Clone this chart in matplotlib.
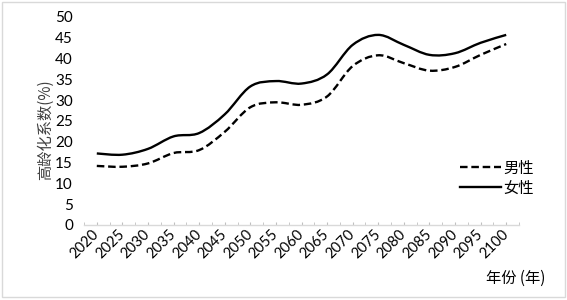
import matplotlib
matplotlib.use('Agg')
import matplotlib.pyplot as plt
import numpy as np
from matplotlib.path import Path
from matplotlib.patches import PathPatch, Rectangle
from matplotlib.lines import Line2D

plt.rcParams['font.family'] = ['Lato', 'Noto Sans CJK SC', 'DejaVu Sans']

# data
years = [2020, 2025, 2030, 2035, 2040, 2045, 2050, 2055, 2060,
         2065, 2070, 2075, 2080, 2085, 2090, 2095, 2100]
male = [14.2, 14.0, 14.8, 17.3, 18.0, 22.4, 28.3, 29.5, 28.9,
        30.9, 38.2, 40.8, 38.9, 37.1, 38.0, 40.9, 43.5]
female = [17.2, 16.9, 18.3, 21.3, 22.1, 26.6, 33.3, 34.6, 34.0,
          36.2, 43.3, 45.7, 43.3, 40.9, 41.3, 43.8, 45.7]


def smooth_path(xs, ys):
    # Excel style smoothed line: Catmull-Rom segments as cubic Bezier curves
    p = np.column_stack([xs, ys]).astype(float)
    verts = [p[0]]
    codes = [Path.MOVETO]
    n = len(p)
    for i in range(n - 1):
        p0 = p[i - 1] if i > 0 else p[i]
        p3 = p[i + 2] if i + 2 < n else p[i + 1]
        c1 = p[i] + (p[i + 1] - p0) / 6
        c2 = p[i + 1] - (p3 - p[i]) / 6
        verts += [c1, c2, p[i + 1]]
        codes += [Path.CURVE4] * 3
    return Path(verts, codes)


fig = plt.figure(figsize=(5.67, 3.0), dpi=100)
ax = fig.add_axes([84 / 567, 75 / 300, 435 / 567, 208 / 300])

dash = (0, (3.2, 1.6))
ax.add_patch(PathPatch(smooth_path(years, male), fill=False, lw=1.7,
                       ls=dash, edgecolor='black', capstyle='butt'))
ax.add_patch(PathPatch(smooth_path(years, female), fill=False, lw=1.7,
                       edgecolor='black'))

ax.set_xlim(2017.5, 2102.5)
ax.set_ylim(0, 50)
ax.set_yticks(range(0, 51, 5))
ax.set_xticks(years)
ax.set_xticks(np.arange(2017.5, 2103, 5), minor=True)
ax.set_xticklabels([str(y) for y in years], rotation=45, ha='right',
                   va='center', rotation_mode='anchor', fontsize=10.5)
for lab in ax.get_yticklabels():
    lab.set_fontsize(11)

for s in ['top', 'right', 'left']:
    ax.spines[s].set_visible(False)
ax.spines['bottom'].set_color('#d9d9d9')
ax.spines['bottom'].set_linewidth(1.0)
ax.tick_params(axis='y', length=0, pad=8, colors='black')
ax.tick_params(axis='x', which='both', direction='in', length=2.5,
               color='#bfbfbf', pad=5)

fig.text(45 / 567, 1 - 130 / 300, '高龄化系数(%)', rotation=90,
         ha='center', va='center', fontsize=11,
         family=['Noto Sans CJK SC', 'DejaVu Sans'], color='#404040')
fig.text(516 / 567, 1 - 278 / 300, '年份 (年)', ha='center', va='center',
         fontsize=11, family=['Noto Sans CJK SC', 'DejaVu Sans'])

handles = [Line2D([], [], color='black', lw=1.7, ls=dash),
           Line2D([], [], color='black', lw=1.7)]
fig.legend(handles, ['男性', '女性'], loc='upper left',
           bbox_to_anchor=(452 / 567, 1 - 152 / 300), frameon=False,
           handlelength=2.7, handletextpad=0.15, labelspacing=0.2,
           borderpad=0, prop={'family': 'Noto Sans CJK SC', 'size': 11})

fig.patches.append(Rectangle((2 / 567, 3 / 300), 563 / 567, 295 / 300,
                             transform=fig.transFigure, fill=False,
                             edgecolor='#d9d9d9', lw=1.0))

fig.savefig('out.png', dpi=100)
